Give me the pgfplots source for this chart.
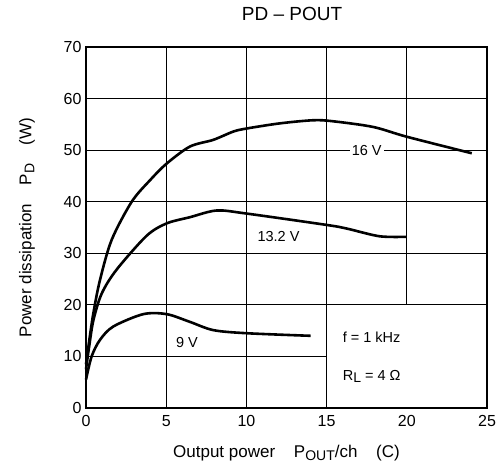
\documentclass[border=0pt]{standalone}
\usepackage{fontspec}
\setmainfont{Liberation Sans}
\usepackage{pgfplots}
\pgfplotsset{compat=1.18}
\newcommand\sub[1]{\raisebox{-0.35ex}{\fontsize{14}{14}\selectfont #1}}
\begin{document}
\begin{tikzpicture}
\begin{axis}[
  scale only axis, width=401pt, height=361pt,
  xmin=0, xmax=25, ymin=0, ymax=70,
  xtick={0,5,...,25}, ytick={0,10,...,70},
  tick style={draw=none},
  axis line style={line width=1.6pt},
  /pgf/number format/assume math mode=true,
  ticklabel style={font=\fontsize{16}{19}\selectfont},
  xticklabel style={yshift=-4pt},
  yticklabel style={xshift=-1pt},
  xlabel={Output power\hspace{1.1em}P\sub{OUT}/ch\hspace{1.1em}(C)},
  ylabel={Power dissipation\hspace{1.1em}P\sub{D}\hspace{1.1em}(W)},
  label style={font=\fontsize{17}{20}\selectfont},
  xlabel style={yshift=-11pt},
  ylabel style={yshift=22pt},
  clip=false,
]
% grid
\draw[line width=0.9pt] (axis cs:5,0) -- (axis cs:5,70);
\draw[line width=0.9pt] (axis cs:10,0) -- (axis cs:10,70);
\draw[line width=1.1pt] (axis cs:15,0) -- (axis cs:15,70);
\draw[line width=0.9pt] (axis cs:20,20) -- (axis cs:20,70);
\draw[line width=0.9pt] (axis cs:0,10) -- (axis cs:15,10);
\draw[line width=0.9pt] (axis cs:0,30) -- (axis cs:25,30);
\draw[line width=0.9pt] (axis cs:0,40) -- (axis cs:25,40);
\draw[line width=0.9pt] (axis cs:0,50) -- (axis cs:25,50);
\draw[line width=0.9pt] (axis cs:0,60) -- (axis cs:25,60);
\draw[line width=1.1pt] (axis cs:0,20) -- (axis cs:25,20);

\addplot[black, line width=2.6pt, smooth, tension=0.5] coordinates {
(0,8.5) (0.2,13) (0.46,18.4) (0.87,24.8) (1.6,32.6) (2.85,40) (4,44.2) (5.03,47.4) (6.48,50.7) (7.94,52.0) (9.18,53.6) (10.02,54.2) (12.1,55.2) (14.17,55.8) (15.4,55.6) (17.9,54.5) (20,52.6) (24.05,49.4)
};
\addplot[black, line width=2.6pt, smooth, tension=0.5] coordinates {
(0,7.5) (0.2,12) (0.46,17) (0.98,22.2) (1.9,26.8) (3.78,33.4) (5.03,35.8) (6.48,37.0) (8.15,38.3) (10.02,37.7) (15,35.5) (16.25,34.8) (18.3,33.3) (20,33.2)
};
\addplot[black, line width=2.6pt, smooth, tension=0.5] coordinates {
(0,5.5) (0.35,10) (0.87,13.2) (1.7,15.8) (3.57,18.2) (5.03,18.2) (6.48,16.7) (7.94,15.1) (10.02,14.5) (14,14.0)
};

\node[fill=white, inner sep=2pt, font=\fontsize{14.5}{17}\selectfont] at (axis cs:17.5,50) {16 V};
\node[font=\fontsize{14.5}{17}\selectfont] at (axis cs:12,33.2) {13.2 V};
\node[font=\fontsize{14.5}{17}\selectfont] at (axis cs:6.3,12.7) {9 V};
\node[anchor=west, inner sep=0pt, font=\fontsize{14.5}{17}\selectfont] at (axis cs:16,13.8) {f = 1 kHz};
\node[anchor=west, inner sep=0pt, font=\fontsize{14.5}{17}\selectfont] at (axis cs:16,6.1) {R\sub{L} = 4 Ω};
\end{axis}
\node[font=\fontsize{19}{22}\selectfont] at ([shift={(206pt,394pt)}]current axis.south west) {PD – POUT};
\pgfresetboundingbox
\path[use as bounding box] (current axis.south west) ++(-86pt,-59pt) rectangle ++(500pt,467pt);
\end{tikzpicture}
\end{document}
